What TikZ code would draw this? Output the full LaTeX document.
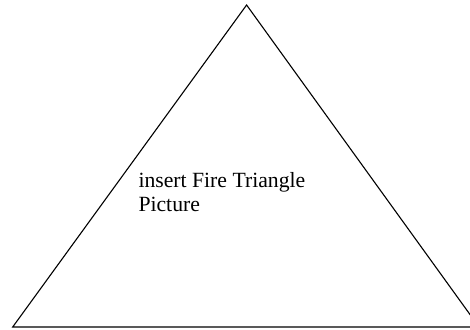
\documentclass[tikz,border=0pt]{standalone}
\usepackage{fontspec}
\setmainfont{Liberation Serif}
\tikzset{
  triline/.style={draw=black, line width=1.1pt, line join=miter},
  label/.style={inner sep=0pt, anchor=base west, align=left, font=\fontsize{21.7}{24}\selectfont}
}
\begin{document}
\begin{tikzpicture}[x=1pt,y=1pt]
\useasboundingbox (0,0) rectangle (470,329);
\clip (0,0) rectangle (470,329);
\coordinate (apex) at (246.6,324);
\coordinate (bl) at (12.7,2);
\coordinate (br) at (479,2);
\draw[triline] (bl) -- (apex) -- (br) -- cycle;
\node[label] (txt) at (138.3,117.3) {insert Fire Triangle\\Picture};
\end{tikzpicture}
\end{document}
